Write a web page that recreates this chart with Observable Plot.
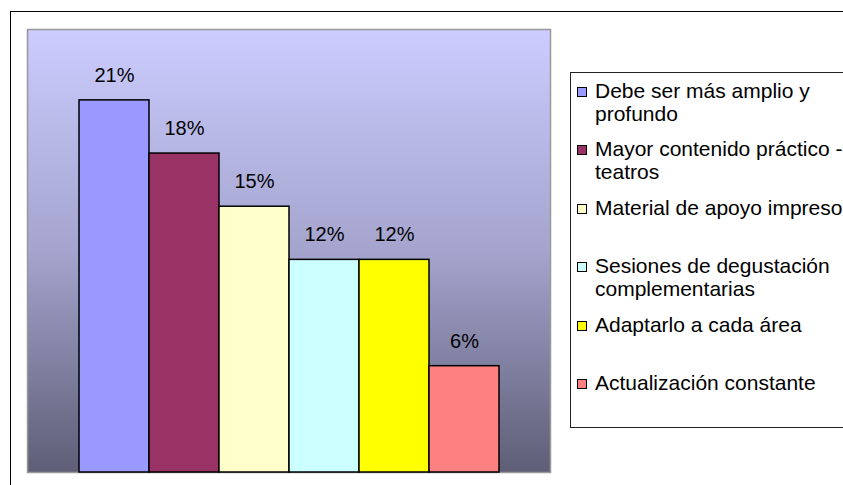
<!DOCTYPE html>
<html>
<head>
<meta charset="utf-8">
<script src="https://cdn.jsdelivr.net/npm/d3@7"></script>
<script src="https://cdn.jsdelivr.net/npm/@observablehq/plot@0.6"></script>
<style>
  html, body { margin: 0; padding: 0; background: #fff; overflow: hidden; }
  #wrap { position: relative; width: 843px; height: 485px; font-family: "Liberation Sans", Arial, sans-serif; overflow: hidden; }
  #frame { position: absolute; left: 10px; top: 11px; width: 900px; height: 600px; border: 1.5px solid #000; box-sizing: border-box; }
  #chart { position: absolute; left: 0; top: 0; }
  #legend { position: absolute; left: 570px; top: 72px; width: 320px; height: 356px; border: 1px solid #222; box-sizing: border-box; background: #fff; padding-top: 5.5px; }
  .item { position: relative; height: 58.6px; padding-left: 24px; font-size: 21px; line-height: 23px; color: #000; white-space: nowrap; }
  .sw { position: absolute; left: 6px; top: 8px; width: 8px; height: 8px; border: 1px solid #000; }
</style>
</head>
<body>
<div id="wrap">
  <div id="frame"></div>
  <div id="chart"></div>
  <div id="legend"></div>
</div>
<script>
const categories = [
  "Debe ser más amplio y profundo",
  "Mayor contenido práctico - teatros",
  "Material de apoyo impreso",
  "Sesiones de degustación complementarias",
  "Adaptarlo a cada área",
  "Actualización constante"
];
const legendLines = [
  ["Debe ser más amplio y", "profundo"],
  ["Mayor contenido práctico -", "teatros"],
  ["Material de apoyo impreso"],
  ["Sesiones de degustación", "complementarias"],
  ["Adaptarlo a cada área"],
  ["Actualización constante"]
];
const values = [21, 18, 15, 12, 12, 6];
const colors = ["#9999FF", "#993366", "#FFFFCC", "#CCFFFF", "#FFFF00", "#FF8080"];

const data = categories.map((c, i) => ({cat: c, value: values[i], color: colors[i]}));

const chart = Plot.plot({
  width: 560,
  height: 485,
  marginLeft: 27,
  marginRight: 10,
  marginTop: 29,
  marginBottom: 13,
  style: {fontFamily: "'Liberation Sans', Arial, sans-serif", background: "transparent", overflow: "visible"},
  x: {domain: categories, padding: 0, insetLeft: 52, insetRight: 51, axis: null},
  y: {domain: [0, 25], axis: null},
  marks: [
    Plot.frame({fill: "url(#bg-grad)", stroke: "#999", strokeWidth: 1.5}),
    Plot.barY(data, {x: "cat", y: "value", fill: "color", stroke: "#000", strokeWidth: 1.5}),
    Plot.text(data, {x: "cat", y: "value", text: d => d.value + "%", dy: -25, fontSize: 20, fill: "#000"})
  ]
});

const ns = "http://www.w3.org/2000/svg";
const defs = document.createElementNS(ns, "defs");
defs.innerHTML = '<linearGradient id="bg-grad" x1="0" y1="0" x2="0" y2="1">' +
  '<stop offset="0" stop-color="#CCCCFF"/>' +
  '<stop offset="0.5" stop-color="#A4A4CE"/>' +
  '<stop offset="1" stop-color="#5E5E76"/></linearGradient>';
chart.insertBefore(defs, chart.firstChild);
document.getElementById("chart").appendChild(chart);

const legend = document.getElementById("legend");
legendLines.forEach((lines, i) => {
  const it = document.createElement("div");
  it.className = "item";
  const sw = document.createElement("span");
  sw.className = "sw";
  sw.style.background = colors[i];
  it.appendChild(sw);
  lines.forEach(l => {
    const d = document.createElement("div");
    d.textContent = l;
    it.appendChild(d);
  });
  legend.appendChild(it);
});
</script>
</body>
</html>
